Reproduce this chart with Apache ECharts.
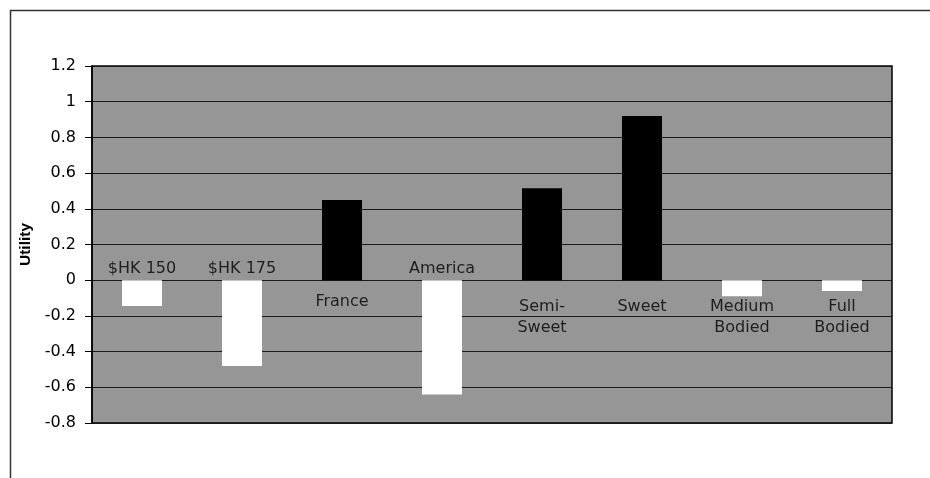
<!DOCTYPE html>
<html>
<head>
<meta charset="utf-8">
<script src="https://cdn.jsdelivr.net/npm/echarts@6/dist/echarts.min.js"></script>
<style>
html,body{margin:0;padding:0;background:#fff;}
#chart{width:930px;height:478px;}
</style>
</head>
<body>
<div id="chart"></div>
<script>
const categories = ['$HK 150', '$HK 175', 'France', 'America', 'Semi-\nSweet', 'Sweet', 'Medium\nBodied', 'Full\nBodied'];
const utilities = [-0.145, -0.48, 0.45, -0.64, 0.515, 0.92, -0.09, -0.06];
const yTicks = { min: -0.8, max: 1.2, interval: 0.2 };
const yAxisName = 'Utility';

const FONT = 'DejaVu Sans';
// label placement: above the zero line for clearly negative bars, below otherwise
const labelDistanceBelow = { 2: 11 };

const chart = echarts.init(document.getElementById('chart'), null, { renderer: 'canvas' });

const barData = utilities.map(v => ({
  value: v,
  itemStyle: { color: v >= 0 ? '#000000' : '#ffffff' }
}));

const labelData = categories.map((c, i) => {
  const above = utilities[i] < -0.1;
  return {
    value: 0,
    label: {
      show: true,
      position: above ? 'top' : 'bottom',
      distance: above ? 1 : (labelDistanceBelow[i] !== undefined ? labelDistanceBelow[i] : 16.5),
      formatter: c
    }
  };
});

chart.setOption({
  animation: false,
  backgroundColor: '#ffffff',
  graphic: [{
    type: 'rect',
    shape: { x: 10.5, y: 10.5, width: 1000, height: 1000 },
    style: { fill: 'none', stroke: '#333333', lineWidth: 1.5 },
    silent: true
  }],
  grid: {
    left: 92, top: 66, right: 38, bottom: 55,
    show: true,
    backgroundColor: '#969696',
    borderColor: '#000000',
    borderWidth: 1.5
  },
  xAxis: {
    type: 'category',
    data: categories,
    axisLine: { show: false },
    axisTick: { show: false },
    axisLabel: { show: false },
    splitLine: { show: false }
  },
  yAxis: {
    type: 'value',
    min: yTicks.min,
    max: yTicks.max,
    interval: yTicks.interval,
    name: yAxisName,
    nameLocation: 'middle',
    nameGap: 55,
    nameRotate: 90,
    nameTextStyle: { fontFamily: 'Liberation Sans', fontSize: 15.5, fontWeight: 'bold', color: '#000' },
    axisLine: { show: true, lineStyle: { color: '#000', width: 1.5 } },
    axisTick: { show: true, length: 7, inside: false, lineStyle: { color: '#000', width: 1 } },
    axisLabel: {
      margin: 16,
      fontFamily: FONT,
      fontSize: 16,
      color: '#000',
      formatter: v => String(Math.round(v * 10) / 10)
    },
    splitLine: { show: true, lineStyle: { color: '#1a1a1a', width: 1 } }
  },
  series: [
    {
      type: 'bar',
      data: barData,
      barWidth: '40%',
      z: 2
    },
    {
      type: 'scatter',
      data: labelData,
      symbolSize: 0,
      silent: true,
      z: 3,
      label: {
        show: true,
        fontFamily: FONT,
        fontSize: 16,
        lineHeight: 21,
        color: '#000',
        align: 'center'
      }
    }
  ]
});
</script>
</body>
</html>
